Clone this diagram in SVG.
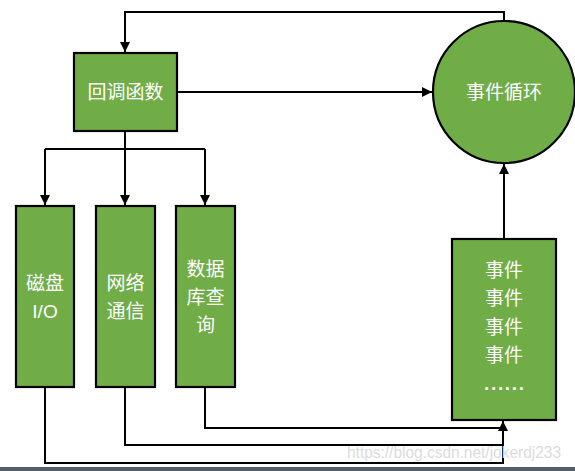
<svg xmlns="http://www.w3.org/2000/svg" width="575" height="471" viewBox="0 0 575 471">
<defs>
<style>
.n{fill:#70AD47;stroke:#000;stroke-width:2.2}
.t{fill:#fff;font-family:"Liberation Sans","Noto Sans CJK SC",sans-serif;font-size:19px;text-anchor:middle}
.c{fill:none;stroke:#000;stroke-width:2}
</style>
<marker id="a" viewBox="0 0 10 10" refX="10" refY="5" markerWidth="5" markerHeight="5" orient="auto-start-reverse" markerUnits="strokeWidth">
<path d="M0,0L10,5L0,10z" fill="#000"/>
</marker>
</defs>
<rect width="575" height="471" fill="#fff"/>
<g id="connectors">
<path class="c" d="M504,22V12H125V52" marker-end="url(#a)"/>
<path class="c" d="M177,92H432" marker-end="url(#a)"/>
<path class="c" d="M125,131V149M45,149H205"/>
<path class="c" d="M45,149V205" marker-end="url(#a)"/>
<path class="c" d="M125,149V205" marker-end="url(#a)"/>
<path class="c" d="M205,149V205" marker-end="url(#a)"/>
<path class="c" d="M205,387V428H503"/>
<path class="c" d="M125,387V445H503"/>
<path class="c" d="M45,387V463H503V421" marker-end="url(#a)"/>
<path class="c" d="M504,239V164" marker-end="url(#a)"/>
</g>
<g id="callback">
<rect class="n" x="74" y="53" width="103" height="78"/>
<text class="t" x="125.5" y="99">回调函数</text>
</g>
<g id="eventloop">
<circle class="n" cx="504" cy="92" r="71"/>
<text class="t" x="504" y="99">事件循环</text>
</g>
<g id="disk">
<rect class="n" x="16" y="206" width="58" height="181"/>
<text class="t" x="45" y="290">磁盘</text>
<text class="t" x="45" y="318">I/O</text>
</g>
<g id="network">
<rect class="n" x="96" y="206" width="59" height="181"/>
<text class="t" x="125.5" y="290">网络</text>
<text class="t" x="125.5" y="318">通信</text>
</g>
<g id="db">
<rect class="n" x="176" y="206" width="59" height="181"/>
<text class="t" x="205.5" y="276">数据</text>
<text class="t" x="205.5" y="304">库查</text>
<text class="t" x="205.5" y="332">询</text>
</g>
<g id="events">
<rect class="n" x="452" y="239" width="104" height="181"/>
<text class="t" x="504" y="277">事件</text>
<text class="t" x="504" y="305">事件</text>
<text class="t" x="504" y="334">事件</text>
<text class="t" x="504" y="362">事件</text>
<text class="t" x="504" y="390" font-weight="bold" textLength="40">......</text>
</g>
<text x="347" y="458" font-family="Liberation Sans,sans-serif" font-size="16" fill="#dcdcdc" textLength="214" lengthAdjust="spacingAndGlyphs">https://blog.csdn.net/jokerdj233</text>
<rect x="0" y="467" width="575" height="4" fill="#525e69"/>
</svg>
